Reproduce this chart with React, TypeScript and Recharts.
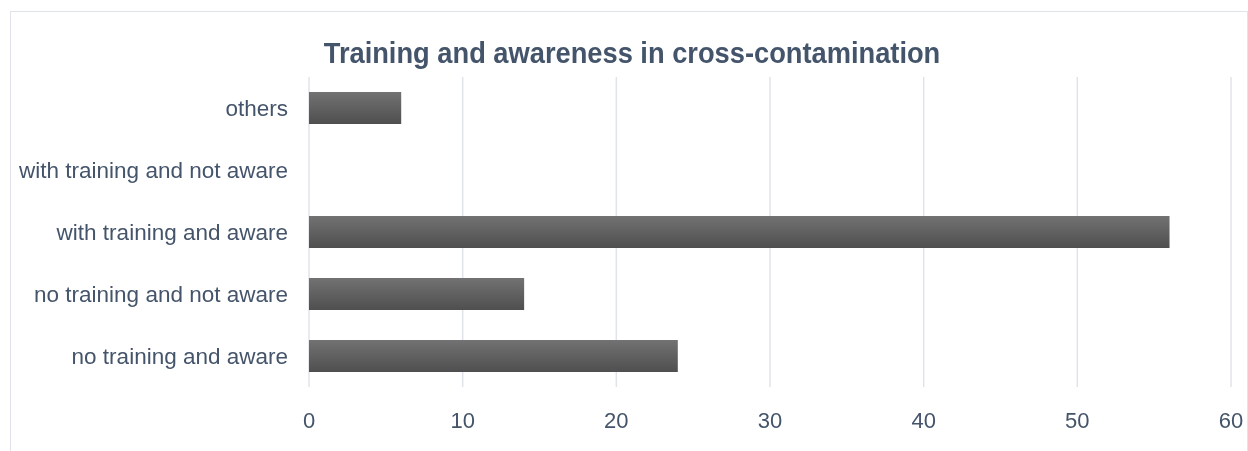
import { BarChart, Bar, XAxis, YAxis, CartesianGrid } from "recharts";

const categories = [
  "others",
  "with training and not aware",
  "with training and aware",
  "no training and not aware",
  "no training and aware",
];
const counts = [6, 0, 56, 14, 24];
const xTicks = [0, 10, 20, 30, 40, 50, 60];

const chartData = categories.map((name, i) => ({ name, value: counts[i] }));

const textColor = "#44546A";
const gridColor = "#E0E3EA";

export default function App() {
  return (
    <div
      style={{
        position: "fixed",
        left: 10,
        top: 11,
        width: 1236,
        height: 440,
        border: "1px solid #E0E3EA",
        borderBottom: "none",
        fontFamily: "'Liberation Sans', Arial, sans-serif",
      }}
    >
      <div
        style={{
          position: "absolute",
          top: 27,
          left: 621,
          transform: "translateX(-50%) scaleX(0.94)",
          whiteSpace: "nowrap",
          fontWeight: "bold",
          fontSize: 29,
          lineHeight: "29px",
          color: textColor,
        }}
      >
        Training and awareness in cross-contamination
      </div>
      <BarChart
        width={1236}
        height={436}
        data={chartData}
        layout="vertical"
        margin={{ top: 65, right: 16, bottom: 21, left: 0 }}
      >
        <defs>
          <linearGradient id="barFill" x1="0" y1="0" x2="0" y2="1">
            <stop offset="0%" stopColor="#727272" />
            <stop offset="100%" stopColor="#4F4F4F" />
          </linearGradient>
        </defs>
        <CartesianGrid horizontal={false} stroke={gridColor} strokeWidth={1.5} />
        <XAxis
          type="number"
          domain={[0, 60]}
          ticks={xTicks}
          axisLine={false}
          tickLine={false}
          tickSize={0}
          tickMargin={25}
          height={40}
          tick={{ fill: textColor, fontSize: 22 }}
        />
        <YAxis
          type="category"
          dataKey="name"
          width={298}
          axisLine={false}
          tickLine={false}
          tickSize={0}
          tickMargin={21}
          tick={{ fill: textColor, fontSize: 22.5 }}
        />
        <Bar dataKey="value" fill="url(#barFill)" barSize={32} isAnimationActive={false} />
      </BarChart>
    </div>
  );
}
